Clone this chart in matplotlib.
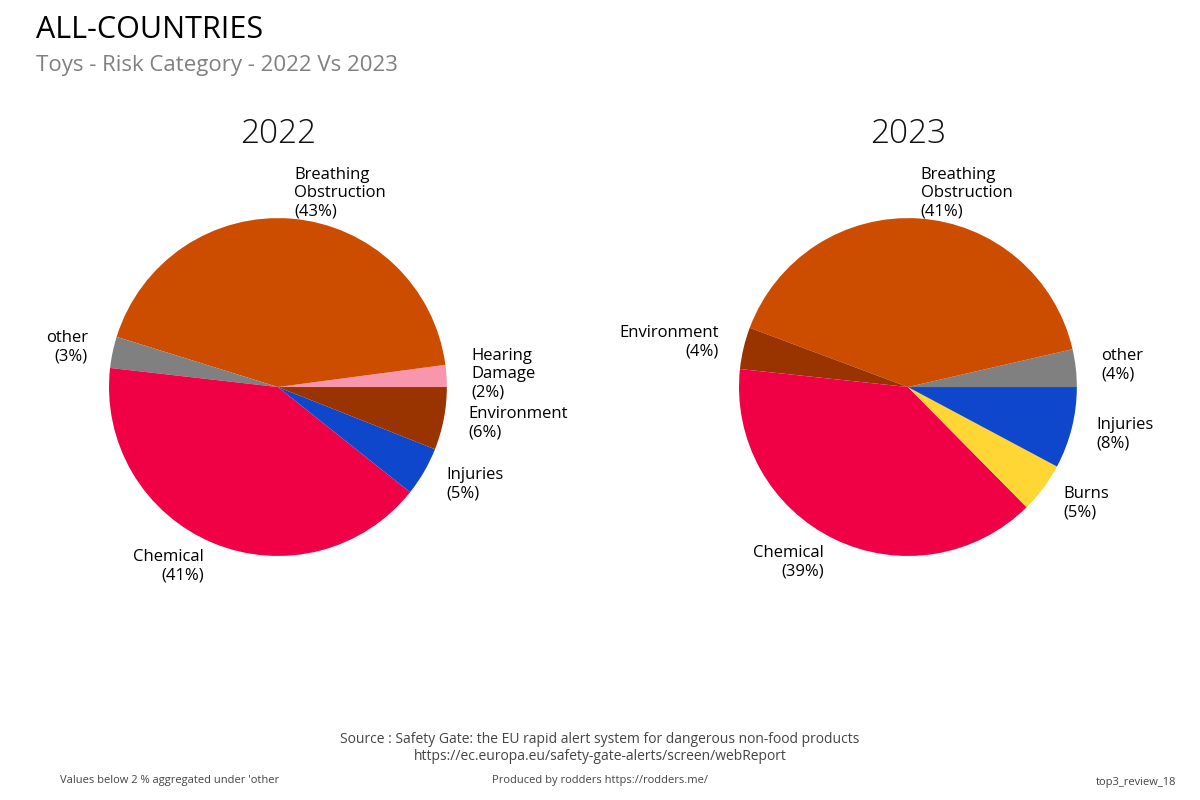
import matplotlib
matplotlib.use("Agg")
import matplotlib.pyplot as plt

plt.rcParams['font.family'] = ['Open Sans', 'DejaVu Sans']

# 2022 data, counter-clockwise from 3 o'clock
labels_2022 = ["Hearing\nDamage", "Breathing\nObstruction", "other", "Chemical", "Injuries", "Environment"]
values_2022 = [2.1, 43.1, 3.0, 41.1, 4.7, 6.0]
colors_2022 = ["#F896AE", "#CC4C00", "#808080", "#F00045", "#0F47CC", "#993300"]

# 2023 data
labels_2023 = ["other", "Breathing\nObstruction", "Environment", "Chemical", "Burns", "Injuries"]
values_2023 = [3.6, 40.7, 4.0, 39.1, 4.8, 7.8]
colors_2023 = ["#808080", "#CC4C00", "#993300", "#F00045", "#FFD633", "#0F47CC"]

fig = plt.figure(figsize=(12, 8), dpi=100)

def draw_pie(left, labels, values, colors, title):
    ax = fig.add_axes([left, 0.2417, 0.366, 0.549])
    total = sum(values)
    txt = [f"{l}\n({round(v / total * 100):.0f}%)" for l, v in zip(labels, values)]
    ax.pie(values, labels=txt, colors=colors, startangle=0, counterclock=True,
           labeldistance=1.15, radius=1,
           textprops={'fontsize': 12, 'color': 'black', 'linespacing': 1.2})
    ax.set_xlim(-1.3, 1.3)
    ax.set_ylim(-1.3, 1.3)
    ax.set_aspect('equal')
    ax.axis('off')
    fig.text(left + 0.183, 1 - 134 / 800, title, ha='center', va='center',
             fontsize=24, fontweight='light', color='#111111')

draw_pie(0.0486, labels_2022, values_2022, colors_2022, "2022")
draw_pie(0.5736, labels_2023, values_2023, colors_2023, "2023")

fig.text(0.03, 1 - 30 / 800, "ALL-COUNTRIES", ha='left', va='center', fontsize=22, color='black')
fig.text(0.03, 1 - 66 / 800, "Toys - Risk Category - 2022 Vs 2023", ha='left', va='center',
         fontsize=16, color='#808080')

fig.text(0.5, 1 - 748 / 800,
         "Source : Safety Gate: the EU rapid alert system for dangerous non-food products\n"
         "https://ec.europa.eu/safety-gate-alerts/screen/webReport",
         ha='center', va='center', fontsize=10, color='#444444', linespacing=1.15)
fig.text(0.05, 1 - 780 / 800, "Values below 2 % aggregated under 'other", ha='left', va='center',
         fontsize=8, color='#444444')
fig.text(0.5, 1 - 780 / 800, "Produced by rodders https://rodders.me/", ha='center', va='center',
         fontsize=8, color='#444444')
fig.text(0.98, 1 - 783 / 800, "top3_review_18", ha='right', va='center',
         fontsize=8, color='#444444')

fig.savefig("out.png", dpi=100)
